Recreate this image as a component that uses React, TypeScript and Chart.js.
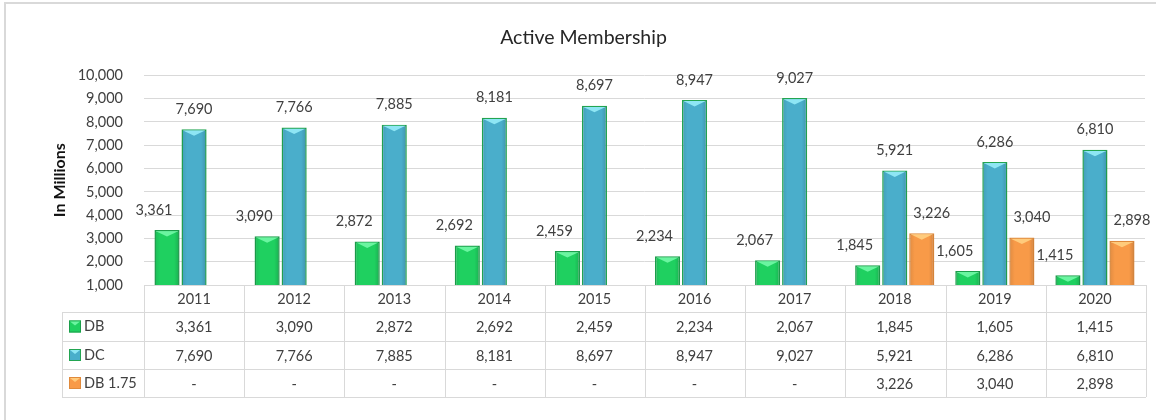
import React, { useEffect, useRef } from 'react';
import { Chart, registerables } from 'chart.js';

Chart.register(...registerables);

const years = ['2011', '2012', '2013', '2014', '2015', '2016', '2017', '2018', '2019', '2020'];
const seriesNames = ['DB', 'DC', 'DB 1.75'];
const dbValues = [3361, 3090, 2872, 2692, 2459, 2234, 2067, 1845, 1605, 1415];
const dcValues = [7690, 7766, 7885, 8181, 8697, 8947, 9027, 5921, 6286, 6810];
const db175Values: (number | null)[] = [null, null, null, null, null, null, null, 3226, 3040, 2898];
const yMin = 1000;
const yMax = 10000;
const yStep = 1000;

const FILL = ['#1fd060', '#4aaecb', '#f89a48'];
const BORDER = ['#1c9e4b', '#23a552', '#e08a3c'];
const BEVEL = ['#6af5a0', '#8ee6f4', '#ffcb7c'];
const LABEL_DX = [-13, 0, 10];
const FONT = 'Lato, "Open Sans", sans-serif';
const TEXT = '#404040';
const LINE = '#d9d9d9';

const fmt = (v: number | null) => (v == null ? '-' : v.toLocaleString('en-US'));

const framePlugin = {
  id: 'frame',
  beforeDraw(chart: any) {
    const { ctx } = chart;
    ctx.save();
    ctx.fillStyle = '#ffffff';
    ctx.fillRect(0, 0, chart.width, chart.height);
    ctx.strokeStyle = LINE;
    ctx.lineWidth = 2;
    ctx.strokeRect(5, 3, chart.width + 20, chart.height + 20);
    ctx.restore();
  },
};

const bevelPlugin = {
  id: 'bevel',
  afterDatasetsDraw(chart: any) {
    const { ctx, chartArea } = chart;
    ctx.save();
    ctx.beginPath();
    ctx.rect(chartArea.left, chartArea.top - 10, chartArea.right - chartArea.left, chartArea.bottom - chartArea.top + 10);
    ctx.clip();
    chart.data.datasets.forEach((ds: any, di: number) => {
      const meta = chart.getDatasetMeta(di);
      meta.data.forEach((el: any, i: number) => {
        if (ds.data[i] == null) return;
        const { x, y, width } = el.getProps(['x', 'y', 'width'], true);
        const l = x - width / 2;
        const r = x + width / 2;
        const g = ctx.createLinearGradient(l, 0, r, 0);
        g.addColorStop(0, 'rgba(0,0,0,0.10)');
        g.addColorStop(0.22, 'rgba(0,0,0,0)');
        g.addColorStop(0.78, 'rgba(0,0,0,0)');
        g.addColorStop(1, 'rgba(0,0,0,0.16)');
        ctx.fillStyle = g;
        ctx.fillRect(l + 1, y + 1, width - 2, chartArea.bottom - y);
        ctx.fillStyle = BEVEL[di];
        ctx.beginPath();
        ctx.moveTo(l + 1.5, y + 1.2);
        ctx.lineTo(r - 1.5, y + 1.2);
        ctx.lineTo(x, y + 6.5);
        ctx.closePath();
        ctx.fill();
      });
    });
    ctx.restore();

    ctx.save();
    ctx.font = `14.5px ${FONT}`;
    ctx.fillStyle = TEXT;
    ctx.textAlign = 'center';
    ctx.textBaseline = 'middle';
    chart.data.datasets.forEach((ds: any, di: number) => {
      const meta = chart.getDatasetMeta(di);
      meta.data.forEach((el: any, i: number) => {
        const v = ds.data[i];
        if (v == null) return;
        const { x, y } = el.getProps(['x', 'y'], true);
        ctx.fillText(fmt(v), x + LABEL_DX[di], y - 20);
      });
    });
    ctx.restore();
  },
};

function drawKey(ctx: CanvasRenderingContext2D, x: number, cy: number, di: number) {
  const s = 12;
  const y = cy - s / 2;
  ctx.fillStyle = FILL[di];
  ctx.fillRect(x, y, s, s);
  ctx.strokeStyle = BORDER[di];
  ctx.lineWidth = 1;
  ctx.strokeRect(x + 0.5, y + 0.5, s - 1, s - 1);
  ctx.fillStyle = BEVEL[di];
  ctx.beginPath();
  ctx.moveTo(x + 1, y + 1);
  ctx.lineTo(x + s - 1, y + 1);
  ctx.lineTo(x + s / 2, y + 5);
  ctx.closePath();
  ctx.fill();
}

const tablePlugin = {
  id: 'dataTable',
  afterDraw(chart: any) {
    const { ctx, chartArea } = chart;
    const xs = chart.scales.x;
    const labels: string[] = chart.data.labels;
    const n = labels.length;
    const left = chartArea.left;
    const right = chartArea.right + 1;
    const colW = (right - left) / n;
    const keyLeft = 62;
    const b = chartArea.bottom;
    const rowLines = [b, b + 27, b + 56, b + 84, b + 112];

    ctx.save();
    ctx.strokeStyle = LINE;
    ctx.lineWidth = 1;
    ctx.beginPath();
    rowLines.forEach((yy, k) => {
      const y = Math.round(yy) + 0.5;
      ctx.moveTo(k === 0 ? left : keyLeft, y);
      ctx.lineTo(right, y);
    });
    for (let i = 0; i <= n; i++) {
      const x = Math.round(left + i * colW) + 0.5;
      ctx.moveTo(x, rowLines[0]);
      ctx.lineTo(x, rowLines[4]);
    }
    ctx.moveTo(keyLeft + 0.5, rowLines[1]);
    ctx.lineTo(keyLeft + 0.5, rowLines[4]);
    ctx.stroke();

    ctx.font = `14.5px ${FONT}`;
    ctx.fillStyle = TEXT;
    ctx.textBaseline = 'middle';
    ctx.textAlign = 'center';
    labels.forEach((lab, i) => {
      const cx = xs.getPixelForValue(i);
      ctx.fillText(lab, cx, (rowLines[0] + rowLines[1]) / 2 + 1);
    });
    chart.data.datasets.forEach((ds: any, di: number) => {
      const cy = (rowLines[di + 1] + rowLines[di + 2]) / 2 + 1;
      ds.data.forEach((v: number | null, i: number) => {
        const cx = xs.getPixelForValue(i);
        ctx.fillStyle = TEXT;
        ctx.textAlign = 'center';
        ctx.fillText(fmt(v), cx, cy);
      });
      drawKey(ctx, keyLeft + 7, cy - 1, di);
      ctx.fillStyle = TEXT;
      ctx.textAlign = 'left';
      ctx.fillText(ds.label, keyLeft + 22, cy - 1);
    });
    ctx.restore();
  },
};

export default function App() {
  const ref = useRef<HTMLCanvasElement>(null);
  useEffect(() => {
    document.body.style.margin = '0';
    const seriesData = [dbValues, dcValues, db175Values];
    const chart = new Chart(ref.current!, {
      type: 'bar',
      data: {
        labels: years,
        datasets: seriesNames.map((name, di) => ({
          label: name,
          data: seriesData[di],
          backgroundColor: FILL[di],
          borderColor: BORDER[di],
          borderWidth: 1.5,
          categoryPercentage: 0.81,
          barPercentage: 0.93,
        })),
      },
      options: {
        responsive: false,
        animation: false,
        layout: { padding: { left: 22, right: 11, top: 0, bottom: 135 } },
        plugins: {
          legend: { display: false },
          tooltip: { enabled: false },
          title: {
            display: true,
            text: 'Active Membership',
            color: '#262626',
            font: { family: FONT, size: 19.5, weight: 'normal' },
            padding: { top: 26, bottom: 26 },
          },
        },
        scales: {
          x: { display: false },
          y: {
            min: yMin,
            max: yMax,
            ticks: {
              stepSize: yStep,
              padding: 21,
              color: TEXT,
              font: { family: FONT, size: 14.5 },
              callback: (v: any) => Number(v).toLocaleString('en-US'),
            },
            grid: { color: LINE, drawTicks: false, lineWidth: 1 },
            border: { display: false },
            title: {
              display: true,
              text: 'In Millions',
              color: '#111111',
              font: { family: FONT, size: 16, weight: 'bold' },
              padding: { top: 28, bottom: 0 },
            },
            afterFit: (scale: any) => {
              scale.width = 122;
            },
          },
        },
      },
      plugins: [framePlugin, bevelPlugin, tablePlugin],
    });
    return () => chart.destroy();
  }, []);
  return (
    <div style={{ width: 1156, height: 420 }}>
      <canvas ref={ref} width={1156} height={420} />
    </div>
  );
}
